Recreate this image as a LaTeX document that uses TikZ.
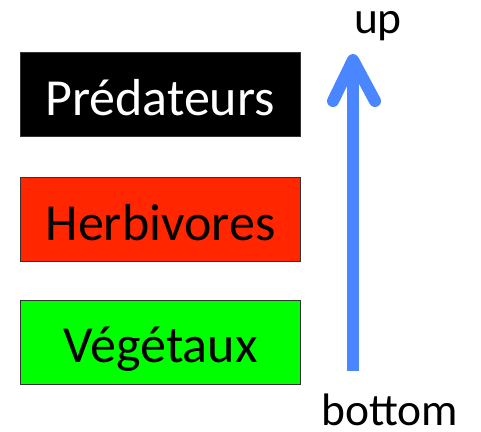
\documentclass[tikz,border=0pt]{standalone}
\usepackage{fontspec}
\setmainfont{Carlito}
\definecolor{levelblack}{RGB}{0,0,0}
\definecolor{levelred}{RGB}{255,38,0}
\definecolor{levelgreen}{RGB}{0,255,0}
\definecolor{arrowblue}{RGB}{74,134,255}
\begin{document}
\begin{tikzpicture}[x=1pt,y=-1pt,
  levelbox/.style={draw=black!80, line width=0.8pt, minimum width=280pt, minimum height=84pt,
    inner sep=0pt, text height=41pt, text depth=0pt, font=\fontsize{52}{56}\selectfont},
  axislabel/.style={font=\fontsize{45.5}{50}\selectfont, inner sep=0pt},
  flow/.style={draw=arrowblue, line width=12pt, line cap=round, line join=round}]
  \useasboundingbox (0,0) rectangle (481,431);
  % food-chain levels
  \node[levelbox, fill=levelblack, text=white] (pred) at (160,94.5) {Prédateurs};
  \node[levelbox, fill=levelred] (herb) at (160.5,219.5) {Herbivores};
  \node[levelbox, fill=levelgreen] (veg) at (160.5,342) {Végétaux};
  % direction of the chain
  \node[axislabel, anchor=base] (up) at (378,33) {up};
  \node[axislabel, anchor=base] (bottom) at (390,425) {bottom};
  \coordinate (tail) at (353,371);
  \coordinate (tip) at (353,60);
  \coordinate (wingL) at (333,101);
  \coordinate (wingR) at (375,101);
  \draw[flow, line cap=butt] (tail) -- (353,66);
  \draw[flow] (wingL) -- (tip) -- (wingR);
\end{tikzpicture}
\end{document}
